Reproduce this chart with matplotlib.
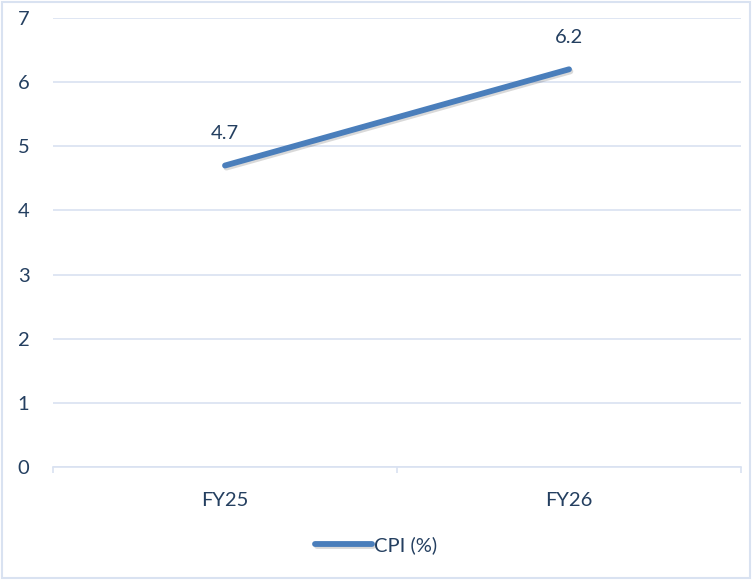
import matplotlib
matplotlib.use("Agg")
import matplotlib.pyplot as plt
import matplotlib.patheffects as pe
from matplotlib.patches import Rectangle

categories = ["FY25", "FY26"]
cpi_values = [4.7, 6.2]
series_name = "CPI (%)"
y_ticks = [0, 1, 2, 3, 4, 5, 6, 7]

text_color = "#243f60"
line_color = "#4a7ebb"
grid_color = "#d9e2f1"

plt.rcParams["font.family"] = ["Lato", "DejaVu Sans"]

fig = plt.figure(figsize=(7.52, 5.80), dpi=100)
ax = fig.add_axes([0.0705, 0.1948, 0.9149, 0.7742])

x = list(range(len(categories)))
ax.plot(x, cpi_values, color=line_color, lw=4.2, solid_capstyle="round",
        label=series_name,
        path_effects=[pe.SimpleLineShadow(offset=(1.0, -1.5), shadow_color="black", alpha=0.15),
                      pe.Normal()])

for xi, v in zip(x, cpi_values):
    ax.annotate(f"{v}", (xi, v), xytext=(0, 23), textcoords="offset points",
                ha="center", va="center", color=text_color, fontsize=14.5)

ax.set_xlim(-0.5, len(categories) - 0.5)
ax.set_ylim(0, 7)
ax.set_yticks(y_ticks)
ax.set_yticklabels([str(t) for t in y_ticks])
ax.set_xticks(x)
ax.set_xticklabels(categories)
ax.set_xticks([-0.5, 0.5, 1.5], minor=True)

ax.grid(axis="y", color=grid_color, lw=1.2)
ax.set_axisbelow(True)
for side in ("top", "right", "left"):
    ax.spines[side].set_visible(False)
ax.spines["bottom"].set_color(grid_color)
ax.spines["bottom"].set_linewidth(1.2)

ax.tick_params(axis="y", length=0, pad=17, labelsize=14.5, labelcolor=text_color)
ax.tick_params(axis="x", which="major", length=0, pad=18, labelsize=14.5, labelcolor=text_color)
ax.tick_params(axis="x", which="minor", length=4, width=1.2, color=grid_color)

fig.legend(loc="center", bbox_to_anchor=(0.5, 0.06), frameon=False, fontsize=14.5,
           labelcolor=text_color, handlelength=2.8, handletextpad=0.1)

fig.patches.append(Rectangle((0.003, 0.003), 0.994, 0.994, transform=fig.transFigure,
                             fill=False, edgecolor="#d9e2f1", lw=1.5))

fig.savefig("out.png", dpi=100)
